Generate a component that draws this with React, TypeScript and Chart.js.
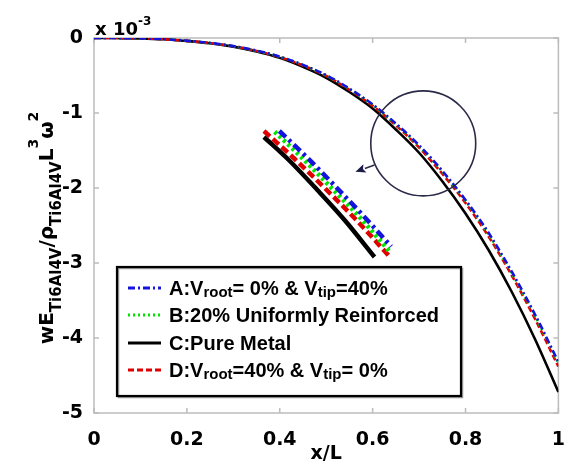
import React, { useEffect, useRef } from "react";
import { Chart, registerables } from "chart.js";

Chart.register(...registerables);

// ---- data (×10^-3) ----
const xValues = [0, 0.05, 0.1, 0.15, 0.2, 0.25, 0.3, 0.35, 0.4, 0.45, 0.5, 0.55, 0.6, 0.65, 0.7, 0.75, 0.8, 0.85, 0.9, 0.95, 1];
const seriesA = [0, -0.001, -0.005, -0.016, -0.037, -0.066, -0.108, -0.168, -0.248, -0.358, -0.495, -0.675, -0.885, -1.14, -1.43, -1.77, -2.16, -2.6, -3.12, -3.69, -4.32];
const seriesB = [0, -0.001, -0.005, -0.016, -0.037, -0.067, -0.109, -0.17, -0.25, -0.36, -0.5, -0.68, -0.89, -1.15, -1.44, -1.78, -2.17, -2.62, -3.14, -3.71, -4.34];
const seriesC = [0, -0.001, -0.005, -0.017, -0.04, -0.07, -0.115, -0.18, -0.265, -0.385, -0.53, -0.72, -0.94, -1.22, -1.53, -1.91, -2.34, -2.83, -3.39, -4.02, -4.72];
const seriesD = [0, -0.001, -0.005, -0.017, -0.038, -0.068, -0.111, -0.172, -0.254, -0.366, -0.505, -0.69, -0.905, -1.165, -1.46, -1.81, -2.2, -2.65, -3.17, -3.75, -4.38];

// magnified inset copy of the circled region
const insetAx = [0.399, 0.46, 0.52, 0.58, 0.64];
const insetAy = [-1.24, -1.6, -1.98, -2.37, -2.78];
const insetBx = [0.389, 0.45, 0.51, 0.575, 0.637];
const insetBy = [-1.25, -1.61, -1.99, -2.41, -2.85];
const insetCx = [0.366, 0.42, 0.48, 0.54, 0.604];
const insetCy = [-1.32, -1.63, -2.02, -2.43, -2.92];
const insetDx = [0.366, 0.43, 0.5, 0.57, 0.637];
const insetDy = [-1.24, -1.6, -2.02, -2.46, -2.92];

const xTicks = [0, 0.2, 0.4, 0.6, 0.8, 1];
const yTicks = [0, -1, -2, -3, -4, -5];

// annotation: circle and arrow (data coordinates)
const circleCenter = [0.709, -1.405];
const circleRadiusX = 0.113;
const arrowFrom = [0.604, -1.693];
const arrowTo = [0.563, -1.783];

const legendA = [{ t: "A:V" }, { t: "root", sub: true }, { t: "= 0% & V" }, { t: "tip", sub: true }, { t: "=40%" }];
const legendB = [{ t: "B:20% Uniformly Reinforced" }];
const legendC = [{ t: "C:Pure Metal" }];
const legendD = [{ t: "D:V" }, { t: "root", sub: true }, { t: "=40% & V" }, { t: "tip", sub: true }, { t: "= 0%" }];

const FONT = "'Liberation Sans', Arial, Helvetica, sans-serif";
const FONT2 = "'DejaVu Sans', sans-serif";

const colA = "#1414dc";
const colB = "#00e400";
const colC = "#000000";
const colD = "#e00000";
const dashA = [7, 3, 2, 3];
const dashB = [2, 3];
const dashC: number[] = [];
const dashD = [6, 3];

function mk(xs: number[], ys: number[], color: string, dash: number[], width: number) {
  return {
    data: xs.map((x, i) => ({ x, y: ys[i] })),
    borderColor: color,
    borderDash: dash,
    borderWidth: width,
    pointRadius: 0,
    fill: false,
    cubicInterpolationMode: "monotone" as const,
    borderCapStyle: "butt" as const,
  };
}

function drawPieces(ctx: CanvasRenderingContext2D, pieces: any[], x: number, y: number, fam: string) {
  let cx = x;
  for (const p of pieces) {
    ctx.font = `bold ${p.size}px ${fam}`;
    ctx.fillText(p.t, cx, y + (p.dy || 0));
    cx += ctx.measureText(p.t).width;
  }
  return cx - x;
}
function measurePieces(ctx: CanvasRenderingContext2D, pieces: any[], fam: string) {
  let w = 0;
  for (const p of pieces) {
    ctx.font = `bold ${p.size}px ${fam}`;
    w += ctx.measureText(p.t).width;
  }
  return w;
}

const decor = {
  id: "decor",
  beforeDatasetsDraw(chart: any) {
    const ctx: CanvasRenderingContext2D = chart.ctx;
    const { left, right, top, bottom } = chart.chartArea;
    const xs = chart.scales.x;
    const ys = chart.scales.y;
    ctx.save();
    ctx.strokeStyle = "#bcbcbc";
    ctx.lineWidth = 1.5;
    ctx.strokeRect(left, top, right - left, bottom - top);
    ctx.beginPath();
    xTicks.forEach((v) => {
      const px = xs.getPixelForValue(v);
      ctx.moveTo(px, bottom); ctx.lineTo(px, bottom - 5);
      ctx.moveTo(px, top); ctx.lineTo(px, top + 5);
    });
    yTicks.forEach((v) => {
      const py = ys.getPixelForValue(v);
      ctx.moveTo(left, py); ctx.lineTo(left + 5, py);
      ctx.moveTo(right, py); ctx.lineTo(right - 5, py);
    });
    ctx.stroke();
    ctx.restore();
  },
  afterDatasetsDraw(chart: any) {
    const ctx: CanvasRenderingContext2D = chart.ctx;
    const { left, top } = chart.chartArea;
    const xs = chart.scales.x;
    const ys = chart.scales.y;
    ctx.save();

    // circle
    const ccx = xs.getPixelForValue(circleCenter[0]);
    const ccy = ys.getPixelForValue(circleCenter[1]);
    const r = xs.getPixelForValue(circleCenter[0] + circleRadiusX) - ccx;
    ctx.strokeStyle = "#2a2a48";
    ctx.lineWidth = 1.6;
    ctx.beginPath();
    ctx.arc(ccx, ccy, r, 0, Math.PI * 2);
    ctx.stroke();

    // arrow
    const ax0 = xs.getPixelForValue(arrowFrom[0]);
    const ay0 = ys.getPixelForValue(arrowFrom[1]);
    const ax1 = xs.getPixelForValue(arrowTo[0]);
    const ay1 = ys.getPixelForValue(arrowTo[1]);
    const ang = Math.atan2(ay1 - ay0, ax1 - ax0);
    const hl = 10, hw = 4.5;
    const bx = ax1 - hl * Math.cos(ang), by = ay1 - hl * Math.sin(ang);
    ctx.beginPath();
    ctx.moveTo(ax0, ay0);
    ctx.lineTo(bx, by);
    ctx.stroke();
    ctx.fillStyle = "#1c1c46";
    ctx.beginPath();
    ctx.moveTo(ax1, ay1);
    ctx.lineTo(bx + hw * Math.sin(ang), by - hw * Math.cos(ang));
    ctx.lineTo(bx + 2 * Math.cos(ang), by + 2 * Math.sin(ang));
    ctx.lineTo(bx - hw * Math.sin(ang), by + hw * Math.cos(ang));
    ctx.closePath();
    ctx.fill();

    // legend box
    const lx = left + 23, ly = top + 229, lw = 344, lh = 129;
    ctx.fillStyle = "#ffffff";
    ctx.fillRect(lx, ly, lw, lh);
    ctx.strokeStyle = "#9a9a9a";
    ctx.lineWidth = 1.5;
    ctx.strokeRect(lx + 1.5, ly + 1.5, lw, lh);
    ctx.strokeStyle = "#000";
    ctx.lineWidth = 2.2;
    ctx.strokeRect(lx, ly, lw, lh);
    const rows = [
      { pieces: legendA, col: colA, dash: dashA },
      { pieces: legendB, col: colB, dash: dashB },
      { pieces: legendC, col: colC, dash: dashC },
      { pieces: legendD, col: colD, dash: dashD },
    ];
    const rowY = [21, 48, 76, 103];
    rows.forEach((row, i) => {
      const yy = ly + rowY[i];
      ctx.strokeStyle = row.col;
      ctx.lineWidth = 2.8;
      ctx.setLineDash(row.dash);
      ctx.beginPath();
      ctx.moveTo(lx + 11, yy);
      ctx.lineTo(lx + 44, yy);
      ctx.stroke();
      ctx.setLineDash([]);
      ctx.fillStyle = "#000";
      ctx.textBaseline = "alphabetic";
      ctx.textAlign = "left";
      const pcs = row.pieces.map((p: any) => (p.sub ? { t: p.t, size: 15, dy: 2 } : { t: p.t, size: 20, dy: 0 }));
      drawPieces(ctx, pcs, lx + 52, yy + 7, FONT);
    });

    // y-axis label (rotated, with sub/superscripts)
    const ylab = [
      { t: "wE", size: 20, dy: 0 },
      { t: "Ti6Al4V", size: 15, dy: 8 },
      { t: "/\u03c1", size: 20, dy: 0 },
      { t: "Ti6Al4V", size: 15, dy: 8 },
      { t: "L", size: 20, dy: 0 },
      { t: "3", size: 14, dy: -15 },
      { t: "\u03c9", size: 20, dy: 0 },
      { t: "2", size: 14, dy: -15 },
    ];
    ctx.save();
    ctx.translate(53, 228);
    ctx.rotate(-Math.PI / 2);
    ctx.fillStyle = "#000";
    ctx.textAlign = "left";
    ctx.textBaseline = "alphabetic";
    const tw = measurePieces(ctx, ylab, FONT2);
    drawPieces(ctx, ylab, -tw / 2, 0, FONT2);
    ctx.restore();

    // exponent label
    ctx.fillStyle = "#000";
    ctx.textAlign = "left";
    ctx.textBaseline = "alphabetic";
    drawPieces(ctx, [{ t: "x 10", size: 18, dy: 0 }, { t: "-3", size: 12, dy: -10 }], left + 1, top - 3, FONT2);

    ctx.restore();
  },
};

export default function App() {
  const ref = useRef<HTMLCanvasElement | null>(null);
  useEffect(() => {
    if (!ref.current) return;
    const chart = new Chart(ref.current, {
      type: "line",
      data: {
        datasets: [
          mk(xValues, seriesA, colA, dashA, 2.6),
          mk(xValues, seriesB, colB, dashB, 2.6),
          mk(xValues, seriesD, colD, dashD, 2.6),
          mk(xValues, seriesC, colC, dashC, 2.6),
          mk(insetAx, insetAy, colA, [9, 4, 3, 4], 4.5),
          mk(insetBx, insetBy, colB, [3, 3], 4.5),
          mk(insetDx, insetDy, colD, [8, 4], 4.5),
          mk(insetCx, insetCy, colC, dashC, 4.5),
        ] as any,
      },
      options: {
        animation: false,
        responsive: false,
        maintainAspectRatio: false,
        devicePixelRatio: 1,
        layout: { padding: { top: 38, right: 9, left: 0, bottom: 0 } },
        plugins: { legend: { display: false }, tooltip: { enabled: false } },
        scales: {
          x: {
            type: "linear",
            min: 0,
            max: 1,
            afterBuildTicks: (s: any) => { s.ticks = xTicks.map((v) => ({ value: v })); },
            afterFit: (s: any) => { s.height = 51; },
            grid: { display: false },
            border: { display: false },
            ticks: {
              autoSkip: false,
              maxRotation: 0,
              padding: 8,
              color: "#000",
              font: { family: FONT2, weight: "bold", size: 19 },
              callback: (v: any) => String(v),
            },
            title: {
              display: true,
              text: "x/L",
              color: "#000",
              font: { family: FONT2, weight: "bold", size: 19, lineHeight: 1 },
              padding: { top: 0, bottom: 0 },
            },
          },
          y: {
            type: "linear",
            min: -5,
            max: 0,
            afterBuildTicks: (s: any) => { s.ticks = yTicks.map((v) => ({ value: v })); },
            afterFit: (s: any) => { s.width = 94; },
            grid: { display: false },
            border: { display: false },
            ticks: {
              autoSkip: false,
              padding: 3,
              color: "#000",
              font: { family: FONT2, weight: "bold", size: 19 },
              callback: (v: any) => String(v),
            },
          },
        },
      } as any,
      plugins: [decor],
    });
    return () => chart.destroy();
  }, []);
  return (
    <div style={{ position: "fixed", left: 0, top: 0, width: 573, height: 464, background: "#fff" }}>
      <canvas ref={ref} width={573} height={464} style={{ display: "block", width: 573, height: 464 }} />
    </div>
  );
}
